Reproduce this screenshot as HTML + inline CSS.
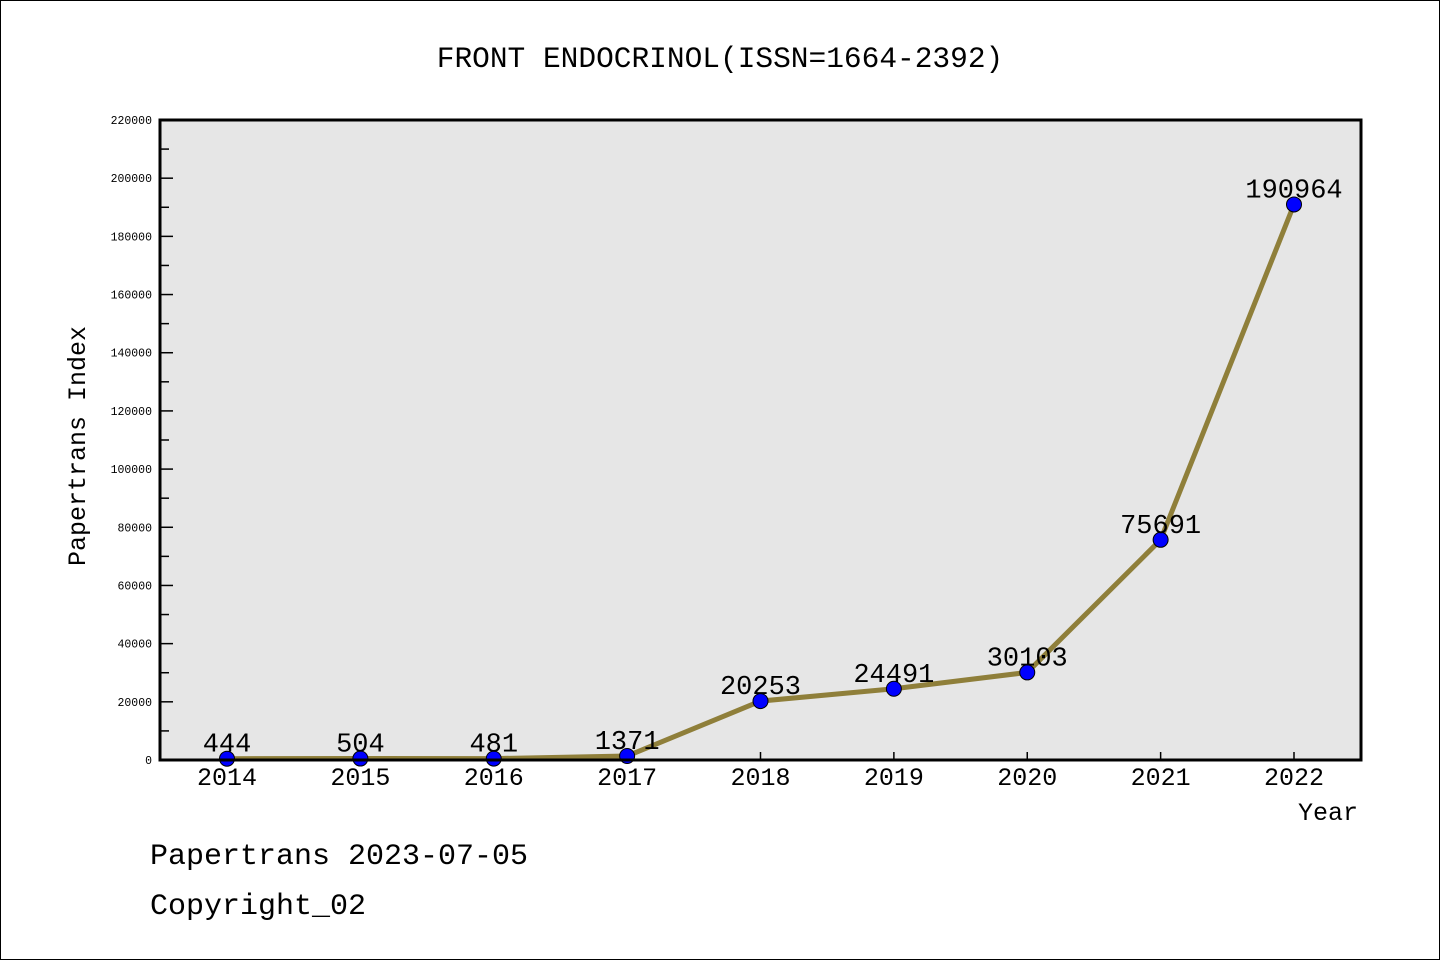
<!DOCTYPE html>
<html><head><meta charset="utf-8"><style>
html,body{margin:0;padding:0;background:#fff}
svg{display:block}
text{font-family:"Liberation Mono",monospace}
</style></head><body>
<svg id="c" width="1440" height="960" xmlns="http://www.w3.org/2000/svg">
<rect x="0.5" y="0.5" width="1439" height="959" fill="#fff" stroke="#000"/>
<text x="720" y="67" font-size="29.5" text-anchor="middle">FRONT ENDOCRINOL(ISSN=1664-2392)</text>
<rect x="160" y="120" width="1201" height="640" fill="#e6e6e6"/>
<g id="g"></g>
<rect x="160" y="120" width="1201" height="640" fill="none" stroke="#000" stroke-width="3"/>
<text x="85" y="446" font-size="25" text-anchor="middle" transform="rotate(-90 85 446)">Papertrans Index</text>
<text x="1358" y="820" font-size="25" text-anchor="end">Year</text>
<text x="150" y="864" font-size="30">Papertrans 2023-07-05</text>
<text x="150" y="914" font-size="30">Copyright_02</text>
</svg>
<script>
const years=["2014","2015","2016","2017","2018","2019","2020","2021","2022"];
const values=[444,504,481,1371,20253,24491,30103,75691,190964];
const yTicks=[0,20000,40000,60000,80000,100000,120000,140000,160000,180000,200000,220000];
const NS="http://www.w3.org/2000/svg";
const g=document.getElementById('g');
const yMax=220000;
function ys(v){return 760-v/yMax*640;}
function xs(i){return 227+i*(1294-227)/(years.length-1);}
function mk(t,a){const e=document.createElementNS(NS,t);for(const k in a)e.setAttribute(k,a[k]);g.appendChild(e);return e;}
yTicks.forEach((v,i)=>{
 const t=mk('line',{x1:160,x2:173,y1:ys(v),y2:ys(v),stroke:'#000','stroke-width':1.5});
 
 
 const l=mk('text',{x:152,y:ys(v)+4,'font-size':11.5,'text-anchor':'end'});
 l.textContent=v;
 
 
 if(i<yTicks.length-1){
  const m=mk('line',{x1:160,x2:169,y1:ys(v+10000),y2:ys(v+10000),stroke:'#000','stroke-width':1.5});
  
  
 }
});
const pts=values.map((v,i)=>xs(i)+','+ys(v)).join(' ');
const pl=mk('polyline',{points:pts,fill:'none',stroke:'#8f7f3a','stroke-width':5,'stroke-linejoin':'round'});


years.forEach((y,i)=>{
 const t=mk('line',{x1:xs(i),x2:xs(i),y1:760,y2:752,stroke:'#000','stroke-width':1.5});
 
 
 const c=mk('circle',{cx:xs(i),cy:ys(values[i]),r:7.5,fill:'#0000ff',stroke:'#000','stroke-width':1});
 
 
 const l=mk('text',{x:xs(i),y:785,'font-size':25,'text-anchor':'middle'});
 l.textContent=y;
 
 
 const v=mk('text',{x:xs(i),y:ys(values[i])-7,'font-size':27,'text-anchor':'middle'});
 v.textContent=values[i];
 
 
});
</script>
</body></html>
